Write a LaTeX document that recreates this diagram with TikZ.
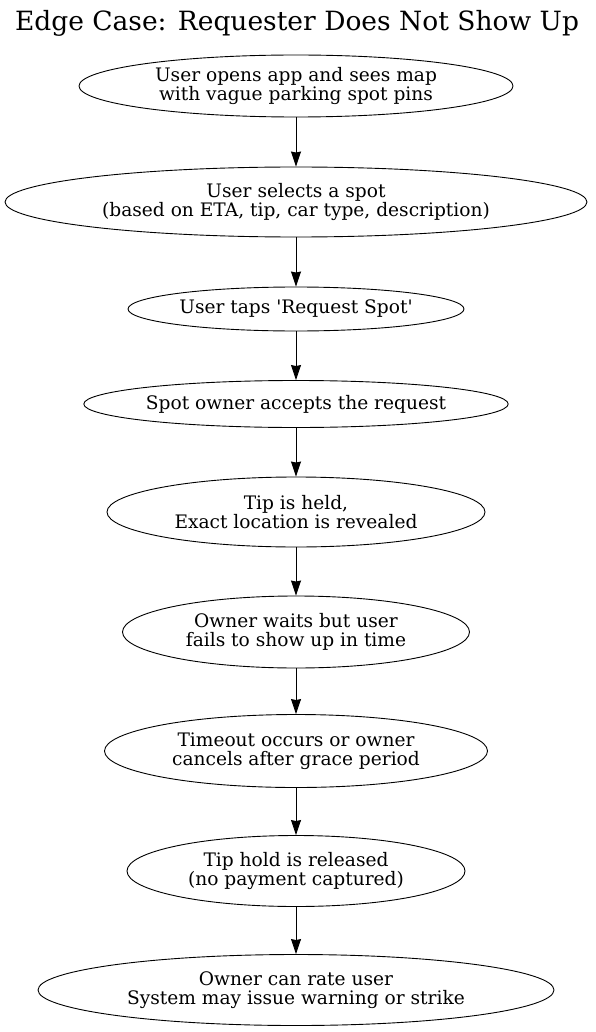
\documentclass[tikz,border=0pt]{standalone}
\usepackage{fontspec}
\setmainfont{DejaVu Serif}[Ligatures=TeXOff]
\usepackage{tikz}
\usetikzlibrary{shapes.geometric,arrows.meta}

\begin{document}
\begin{tikzpicture}[
          x=1pt, y=-1pt,
          every node/.style={font=\fontsize{18.6}{19.5}\selectfont},
          act/.style={ellipse,draw,line width=0.9pt,inner sep=0pt,align=center},
          flow/.style={line width=0.9pt,-{Stealth[length=15pt,width=10pt,inset=1pt]}},
        ]
        \useasboundingbox (0,0) rectangle (595,1032);
        \node[font=\fontsize{26.5}{30}\selectfont] (title) at (297, 23) {Edge Case: Requester Does Not Show Up};
        \node[act,minimum width=434pt,minimum height=62pt] (open) at (296, 86)
          {User opens app and sees map\\with vague parking spot pins};
        \node[act,minimum width=582pt,minimum height=70pt] (select) at (296, 202)
          {User selects a spot\\(based on ETA, tip, car type, description)};
        \node[act,minimum width=336pt,minimum height=44pt] (tap) at (296, 309)
          {User taps 'Request Spot'};
        \node[act,minimum width=421pt,minimum height=47pt] (accept) at (296, 404)
          {Spot owner accepts the request};
        \node[act,minimum width=378pt,minimum height=70pt] (held) at (296, 512)
          {Tip is held,\\Exact location is revealed};
        \node[act,minimum width=347pt,minimum height=72pt] (wait) at (296, 632)
          {Owner waits but user\\fails to show up in time};
        \node[act,minimum width=383pt,minimum height=73pt] (timeout) at (296, 751)
          {Timeout occurs or owner\\cancels after grace period};
        \node[act,minimum width=338pt,minimum height=71pt] (release) at (296, 871)
          {Tip hold is released\\(no payment captured)};
        \node[act,minimum width=516pt,minimum height=71pt] (rate) at (296, 990)
          {Owner can rate user\\System may issue warning or strike};
        \draw[flow] (open) -- (select);
        \draw[flow] (select) -- (tap);
        \draw[flow] (tap) -- (accept);
        \draw[flow] (accept) -- (held);
        \draw[flow] (held) -- (wait);
        \draw[flow] (wait) -- (timeout);
        \draw[flow] (timeout) -- (release);
        \draw[flow] (release) -- (rate);
      \end{tikzpicture}
\end{document}
